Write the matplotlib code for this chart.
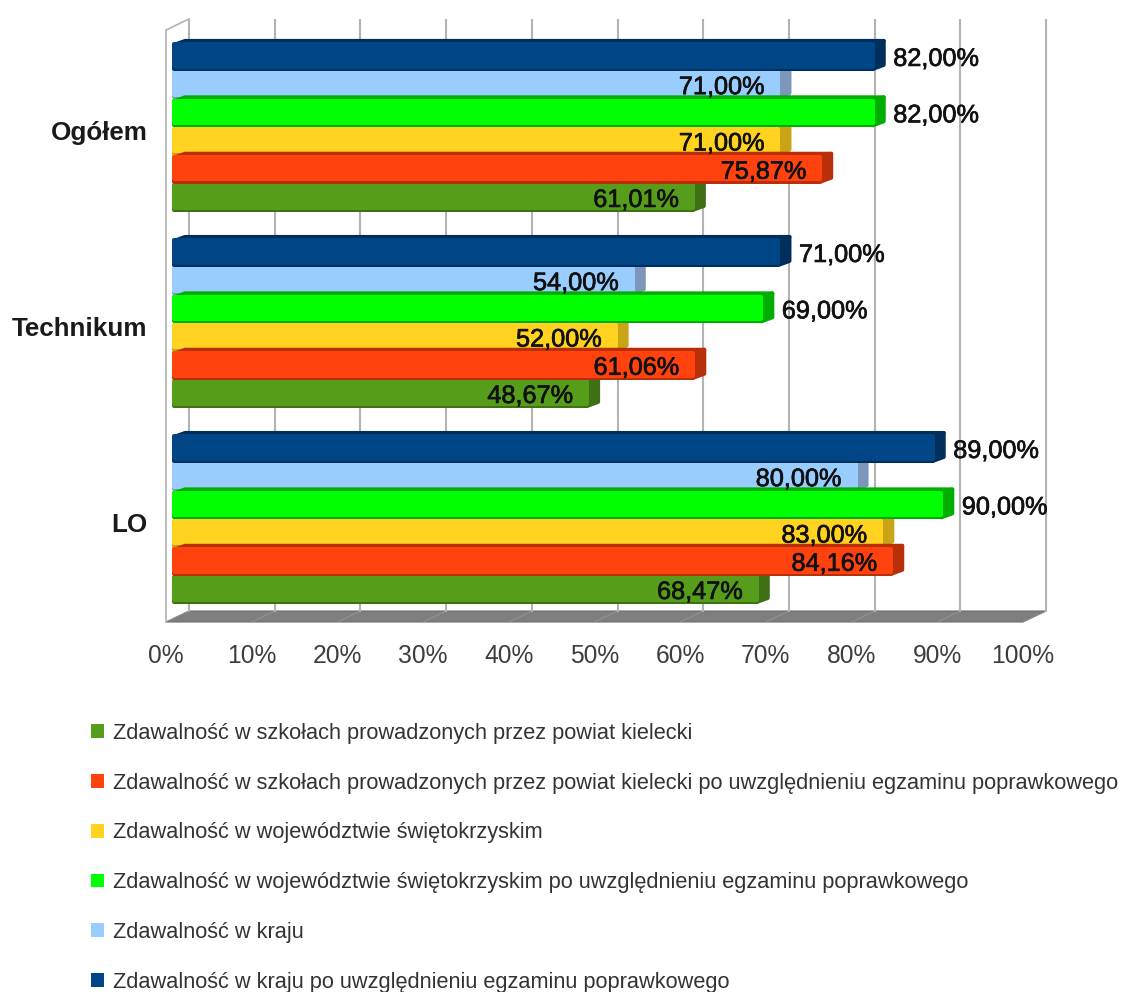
import matplotlib
matplotlib.use('Agg')
import matplotlib.pyplot as plt
import matplotlib.patheffects as pe
from matplotlib.patches import Polygon, Patch
from matplotlib.transforms import ScaledTranslation

plt.rcParams['font.family'] = ['Liberation Sans', 'DejaVu Sans']

categories = ['LO', 'Technikum', 'Ogółem']
series_names = [
    'Zdawalność w szkołach prowadzonych przez powiat kielecki',
    'Zdawalność w szkołach prowadzonych przez powiat kielecki po uwzględnieniu egzaminu poprawkowego',
    'Zdawalność w województwie świętokrzyskim',
    'Zdawalność w województwie świętokrzyskim po uwzględnieniu egzaminu poprawkowego',
    'Zdawalność w kraju',
    'Zdawalność w kraju po uwzględnieniu egzaminu poprawkowego',
]
powiat = [68.47, 48.67, 61.01]
powiat_popr = [84.16, 61.06, 75.87]
woj = [83.00, 52.00, 71.00]
woj_popr = [90.00, 69.00, 82.00]
kraj = [80.00, 54.00, 71.00]
kraj_popr = [89.00, 71.00, 82.00]
series = [powiat, powiat_popr, woj, woj_popr, kraj, kraj_popr]

colors = ['#579d1c', '#ff420e', '#ffd320', '#00ff00', '#99ccff', '#004586']
side_colors = ['#3f7014', '#b92f0a', '#c9a417', '#00ad00', '#7d97ba', '#002f5c']
label_outside = [False, False, False, True, False, True]
draw_order = [0, 2, 4, 1, 3, 5]
xticks = list(range(0, 101, 10))

W, H = 1125, 992
fig = plt.figure(figsize=(W / 100, H / 100), dpi=100, facecolor='white')
ax = fig.add_axes([166 / W, (H - 622) / H, 857 / W, 592 / H])
ax.set_xlim(0, 100)
ax.set_ylim(-0.523, 2.497)
for s in ax.spines.values():
    s.set_visible(False)

# pixels to data units, the fake 3d is all offsets
px_x = 100 / 857
px_y = 3.02 / 592
bar_x0 = 6 * px_x
back_dx = 23 * px_x
back_dy = 11 * px_y
ybot, ytop = ax.get_ylim()

# floor and back wall
ax.add_patch(Polygon([(0, ybot), (100, ybot), (100 + back_dx, ybot + back_dy), (back_dx, ybot + back_dy)],
                     closed=True, fc='#7f7f7f', ec='#6e6e6e', lw=0.8, clip_on=False, zorder=1))
for t in xticks:
    ax.plot([t, t + back_dx], [ybot, ybot + back_dy], color='#979797', lw=0.6, clip_on=False, zorder=1.1)
    ax.plot([t + back_dx] * 2, [ybot + back_dy, ytop + back_dy - 1 * px_y], color='#b3b3b3', lw=1.5,
            clip_on=False, zorder=1.2)
ax.plot([0, 0, back_dx], [ybot, ytop, ytop + back_dy], color='#b3b3b3', lw=1.2, clip_on=False, zorder=1.2)

h = 28 / 196
step = 28.2 / 196
depth_x = 11 * px_x
depth_y = 4 * px_y
r = 2  # corner radius in px, done with a thick round-joined edge
rx, ry = r * px_x, r * px_y
lw_round = 2 * r * 0.72

for n, i in enumerate(draw_order):
    z = 2 + n
    for c, v in enumerate(series[i]):
        y = c + (i - 2.5) * step
        x0 = bar_x0 + rx
        x1 = bar_x0 + v - rx
        yb, yt = y - h / 2 + ry, y + h / 2 - ry
        # top and side faces
        ax.add_patch(Polygon([(x0, yt), (x0 + depth_x, yt + depth_y), (x1 + depth_x, yt + depth_y), (x1, yt)],
                             closed=True, fc=side_colors[i], ec=side_colors[i], lw=lw_round,
                             joinstyle='round', zorder=z))
        ax.add_patch(Polygon([(x1, yb), (x1 + depth_x, yb + depth_y), (x1 + depth_x, yt + depth_y), (x1, yt)],
                             closed=True, fc=side_colors[i], ec=side_colors[i], lw=lw_round,
                             joinstyle='round', zorder=z))
        # dark rim under the front face, then the face
        ax.barh(y, v - 2 * rx, height=yt - yb, left=x0, color=side_colors[i], edgecolor=side_colors[i],
                lw=lw_round, joinstyle='round', zorder=z + 0.3)
        ax.barh(y + 1.5 * px_y, v - 2 * rx, height=yt - yb - 1.5 * px_y, left=x0, color=colors[i],
                edgecolor=colors[i], lw=lw_round, joinstyle='round', zorder=z + 0.5)

# value labels
for i, vals in enumerate(series):
    for c, v in enumerate(vals):
        y = c + (i - 2.5) * step
        txt = f'{v:.2f}%'.replace('.', ',')
        if label_outside[i]:
            xo, ha = 18.5 * 0.72, 'left'
        else:
            xo, ha = -16 * 0.72, 'right'
        ax.annotate(txt, xy=(bar_x0 + v, y), xytext=(xo, -2 * 0.72), textcoords='offset points',
                    ha=ha, va='center', fontsize=18.2, color='#111111', zorder=20,
                    path_effects=[pe.withStroke(linewidth=0.5, foreground='#111111')])

ax.set_xticks(xticks)
ax.set_xticklabels([f'{t}%' for t in xticks], fontsize=17.7, color='#3d3d3d')
ax.set_yticks(range(len(categories)))
ax.set_yticklabels(categories, fontsize=18.7, fontweight='bold', color='#1a1a1a', va='baseline')
ax.tick_params(axis='x', length=0, pad=16)
ax.tick_params(axis='y', length=0, pad=13.5)
off = ScaledTranslation(0, -13 * 0.72 / 72, fig.dpi_scale_trans)
for lab in ax.get_yticklabels():
    lab.set_transform(lab.get_transform() + off)

handles = [Patch(fc=c, ec='none') for c in colors]
fig.legend(handles, series_names, loc='upper left', bbox_to_anchor=(91 / W, (H - 723) / H),
           frameon=False, fontsize=15.68, labelcolor='#333333', borderpad=0, borderaxespad=0,
           handlelength=0.6, handleheight=0.6, handletextpad=0.41, labelspacing=1.32)

fig.savefig('out.png', dpi=100, facecolor='white')
